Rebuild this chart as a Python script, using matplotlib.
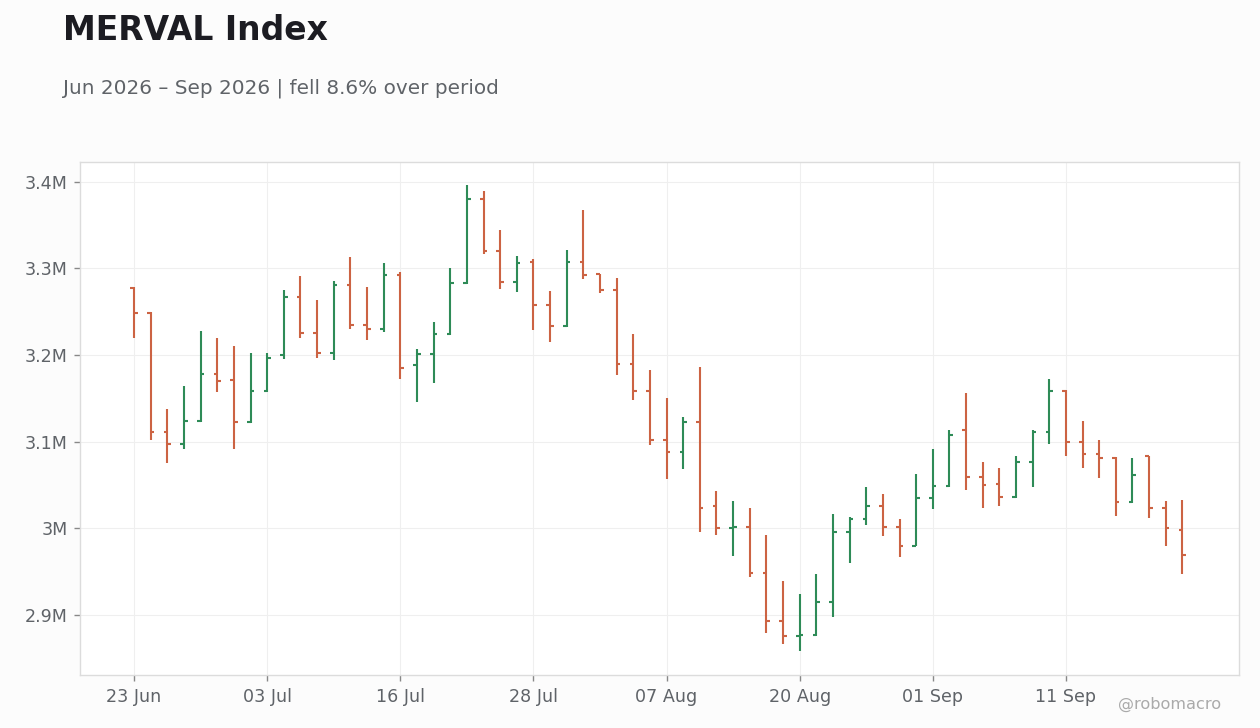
import numpy as np
import pandas as pd
import matplotlib
matplotlib.use("Agg")
import matplotlib.pyplot as plt
from matplotlib.ticker import FuncFormatter

# trading days (Buenos Aires, skips 9 Jul and 17 Aug holidays)
holidays = ["2026-07-09", "2026-08-17"]
days = pd.bdate_range("2026-06-23", "2026-09-30", freq="C", holidays=holidays)[:64]

opens = [3.278, 3.249, 3.111, 3.097, 3.124, 3.178, 3.171, 3.123, 3.158, 3.200,
         3.267, 3.225, 3.203, 3.281, 3.235, 3.230, 3.292, 3.188, 3.201, 3.224,
         3.283, 3.380, 3.320, 3.284, 3.307, 3.258, 3.234, 3.307, 3.294, 3.275,
         3.190, 3.158, 3.102, 3.088, 3.123, 3.026, 3.000, 3.001, 2.948, 2.893,
         2.8755, 2.877, 2.915, 2.996, 3.011, 3.026, 3.002, 2.980, 3.035, 3.049,
         3.114, 3.059, 3.051, 3.036, 3.076, 3.111, 3.159, 3.100, 3.086, 3.081,
         3.030, 3.083, 3.023, 2.998]
highs = [3.279, 3.250, 3.138, 3.164, 3.228, 3.220, 3.211, 3.202, 3.202, 3.275,
         3.291, 3.264, 3.286, 3.313, 3.279, 3.306, 3.296, 3.207, 3.238, 3.300,
         3.396, 3.390, 3.344, 3.314, 3.311, 3.274, 3.321, 3.368, 3.294, 3.289,
         3.224, 3.183, 3.150, 3.128, 3.186, 3.043, 3.031, 3.024, 2.992, 2.939,
         2.924, 2.947, 3.016, 3.013, 3.048, 3.040, 3.011, 3.063, 3.091, 3.113,
         3.156, 3.076, 3.070, 3.084, 3.114, 3.172, 3.160, 3.124, 3.102, 3.082,
         3.081, 3.084, 3.031, 3.033]
lows = [3.220, 3.102, 3.075, 3.091, 3.123, 3.157, 3.091, 3.122, 3.157, 3.195,
        3.220, 3.197, 3.194, 3.230, 3.218, 3.227, 3.172, 3.146, 3.168, 3.223,
        3.282, 3.317, 3.276, 3.273, 3.229, 3.215, 3.233, 3.288, 3.272, 3.177,
        3.148, 3.096, 3.057, 3.069, 2.996, 2.992, 2.968, 2.944, 2.879, 2.866,
        2.858, 2.876, 2.897, 2.960, 3.004, 2.991, 2.967, 2.979, 3.022, 3.048,
        3.044, 3.023, 3.026, 3.035, 3.048, 3.097, 3.083, 3.070, 3.058, 3.014,
        3.029, 3.012, 2.979, 2.947]
closes = [3.249, 3.111, 3.097, 3.124, 3.178, 3.170, 3.123, 3.158, 3.197, 3.267,
          3.225, 3.203, 3.281, 3.235, 3.230, 3.292, 3.185, 3.201, 3.224, 3.283,
          3.380, 3.320, 3.284, 3.306, 3.258, 3.234, 3.307, 3.293, 3.275, 3.190,
          3.158, 3.102, 3.088, 3.123, 3.023, 3.000, 3.001, 2.948, 2.893, 2.8755,
          2.877, 2.915, 2.996, 3.011, 3.026, 3.002, 2.980, 3.035, 3.049, 3.108,
          3.059, 3.050, 3.036, 3.076, 3.111, 3.159, 3.100, 3.086, 3.081, 3.030,
          3.062, 3.023, 3.000, 2.969]

UP = "#2e8b57"
DOWN = "#cc6343"
TEXT = "#5f6368"

o = np.array(opens) * 1e6
h = np.array(highs) * 1e6
l = np.array(lows) * 1e6
c = np.array(closes) * 1e6
x = np.arange(len(days))
colors = [UP if cc >= oo else DOWN for oo, cc in zip(o, c)]

fig = plt.figure(figsize=(12.6, 7.28), dpi=100, facecolor="#fcfcfc")
ax = fig.add_axes([0.0635, 0.0728, 0.9198, 0.7047])
ax.set_facecolor("white")

tick_w = 0.22
ax.vlines(x, l, h, colors=colors, linewidth=1.5, zorder=3)
ax.hlines(o, x - tick_w, x, colors=colors, linewidth=1.5, zorder=3)
ax.hlines(c, x, x + tick_w, colors=colors, linewidth=1.5, zorder=3)

ax.set_xlim(-3.25, 66.4)
ax.set_ylim(2.8306e6, 3.423e6)

ticks = x[::8]
ax.set_xticks(ticks)
ax.set_xticklabels([days[i].strftime("%d %b") for i in ticks])
ax.set_yticks([2.9e6, 3.0e6, 3.1e6, 3.2e6, 3.3e6, 3.4e6])
ax.yaxis.set_major_formatter(FuncFormatter(
    lambda v, p: f"{v / 1e6:g}M"))

ax.grid(True, color="#efefef", linewidth=0.8, zorder=0)
for s in ax.spines.values():
    s.set_color("#dcdcdc")
    s.set_linewidth(1.0)
ax.tick_params(axis="both", colors="#888888", labelcolor=TEXT,
               labelsize=12.6, length=4, width=1, pad=5)

fig.text(0.05, 0.945, "MERVAL Index", fontsize=23.8, fontweight="bold",
         color="#1c1c22", va="baseline")
pct = (c[-1] / c[0] - 1) * 100
fig.text(0.05, 0.872,
         f"{days[0].strftime('%b %Y')} – {days[-1].strftime('%b %Y')} | "
         f"fell {abs(pct):.1f}% over period",
         fontsize=14.4, color=TEXT, va="baseline")
fig.text(0.969, 0.032, "@robomacro", fontsize=11.6, color="#aaaaaa",
         ha="right", va="center")

fig.savefig("out.png", dpi=100, facecolor=fig.get_facecolor())
